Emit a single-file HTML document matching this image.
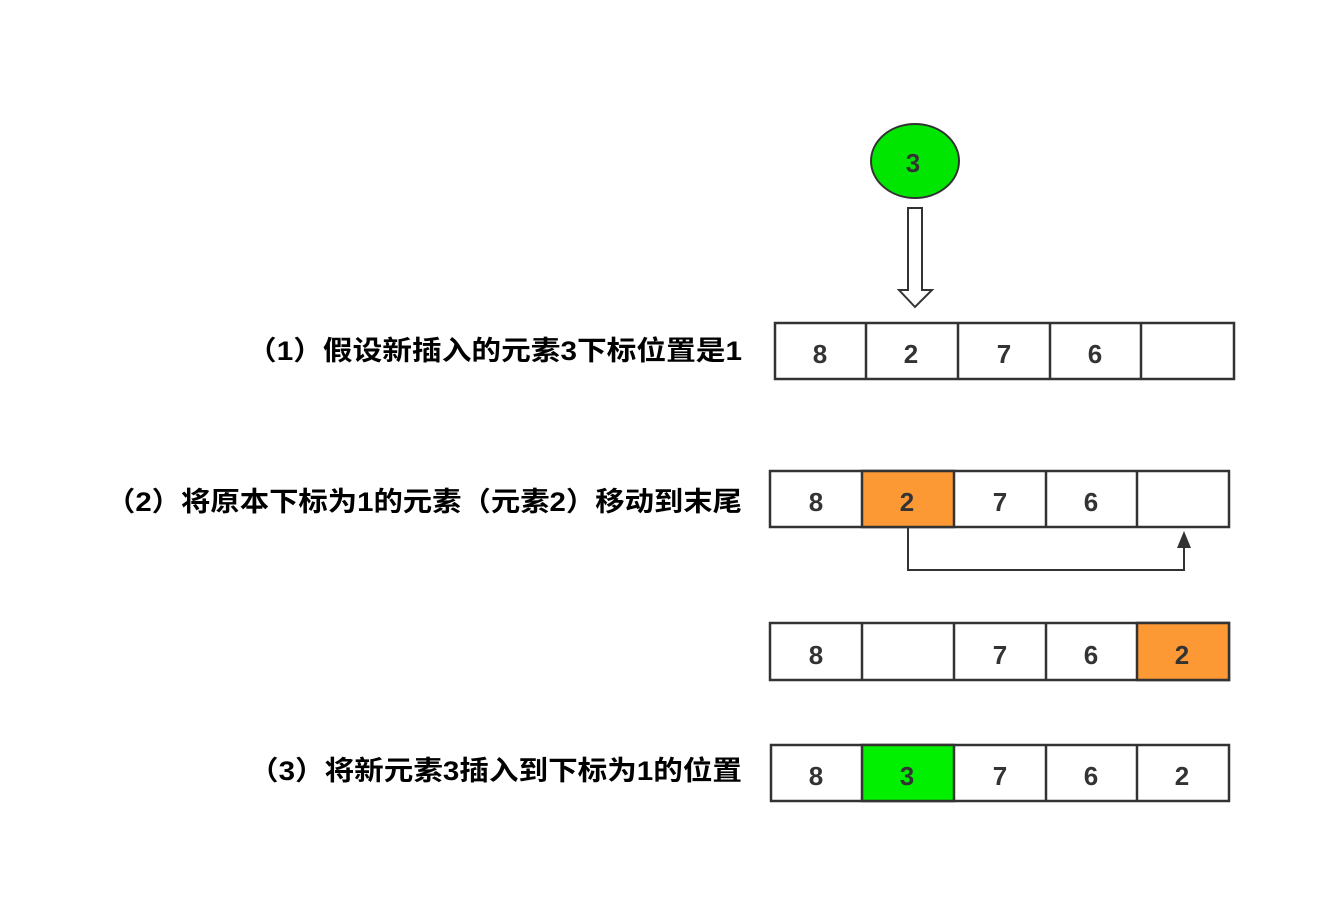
<!DOCTYPE html>
<html><head><meta charset="utf-8"><style>
html,body{margin:0;padding:0;background:#fff;}
svg{display:block}
.lb{font-family:"Liberation Sans","Noto Sans CJK SC",sans-serif;font-weight:bold;font-size:27px;fill:#000}
.n{font-family:"Liberation Sans","Noto Sans CJK SC",sans-serif;font-weight:bold;font-size:26px;fill:#333;text-anchor:middle}
</style></head><body>
<svg width="1343" height="913" viewBox="0 0 1343 913" xmlns="http://www.w3.org/2000/svg">
<rect width="1343" height="913" fill="#fff"/>
<ellipse cx="915" cy="161" rx="44" ry="37" fill="#00e600" stroke="#333" stroke-width="2"/>
<text class="n" x="913" y="172">3</text>
<path d="M908 208 H922 V290 H932 L915 307 L899 290 H908 Z" fill="#fff" stroke="#333" stroke-width="2"/>

<text class="lb" x="742" y="360" text-anchor="end" textLength="495" lengthAdjust="spacingAndGlyphs">（1）假设新插入的元素3下标位置是1</text>
<text class="lb" x="742" y="511" text-anchor="end" textLength="636" lengthAdjust="spacingAndGlyphs">（2）将原本下标为1的元素（元素2）移动到末尾</text>
<text class="lb" x="742" y="780" text-anchor="end" textLength="493" lengthAdjust="spacingAndGlyphs">（3）将新元素3插入到下标为1的位置</text>

<g stroke="#333" stroke-width="2.5" fill="#fff">
<rect x="775" y="323" width="459" height="56"/>
<line x1="866" y1="323" x2="866" y2="379"/><line x1="958" y1="323" x2="958" y2="379"/><line x1="1050" y1="323" x2="1050" y2="379"/><line x1="1141" y1="323" x2="1141" y2="379"/>

<rect x="770" y="471" width="459" height="56"/>
<rect x="862" y="471" width="92" height="56" fill="#fd9935"/>
<line x1="1046" y1="471" x2="1046" y2="527"/><line x1="1137" y1="471" x2="1137" y2="527"/>

<rect x="770" y="623" width="459" height="57"/>
<rect x="1137" y="623" width="92" height="57" fill="#fd9935"/>
<line x1="862" y1="623" x2="862" y2="680"/><line x1="954" y1="623" x2="954" y2="680"/><line x1="1046" y1="623" x2="1046" y2="680"/>

<rect x="771" y="745" width="458" height="56"/>
<rect x="862" y="745" width="92" height="56" fill="#00f000"/>
<line x1="1046" y1="745" x2="1046" y2="801"/><line x1="1137" y1="745" x2="1137" y2="801"/>
</g>
<path d="M908 528 V570 H1184 V546" fill="none" stroke="#333" stroke-width="2"/>
<path d="M1177 548 L1184 531 L1191 548 Z" fill="#333"/>

<g>
<text class="n" x="820" y="363">8</text><text class="n" x="911" y="363">2</text><text class="n" x="1004" y="363">7</text><text class="n" x="1095" y="363">6</text>
<text class="n" x="816" y="511">8</text><text class="n" x="907" y="511">2</text><text class="n" x="1000" y="511">7</text><text class="n" x="1091" y="511">6</text>
<text class="n" x="816" y="664">8</text><text class="n" x="1000" y="664">7</text><text class="n" x="1091" y="664">6</text><text class="n" x="1182" y="664">2</text>
<text class="n" x="816" y="785">8</text><text class="n" x="907" y="785">3</text><text class="n" x="1000" y="785">7</text><text class="n" x="1091" y="785">6</text><text class="n" x="1182" y="785">2</text>
</g>
</svg>
</body></html>
